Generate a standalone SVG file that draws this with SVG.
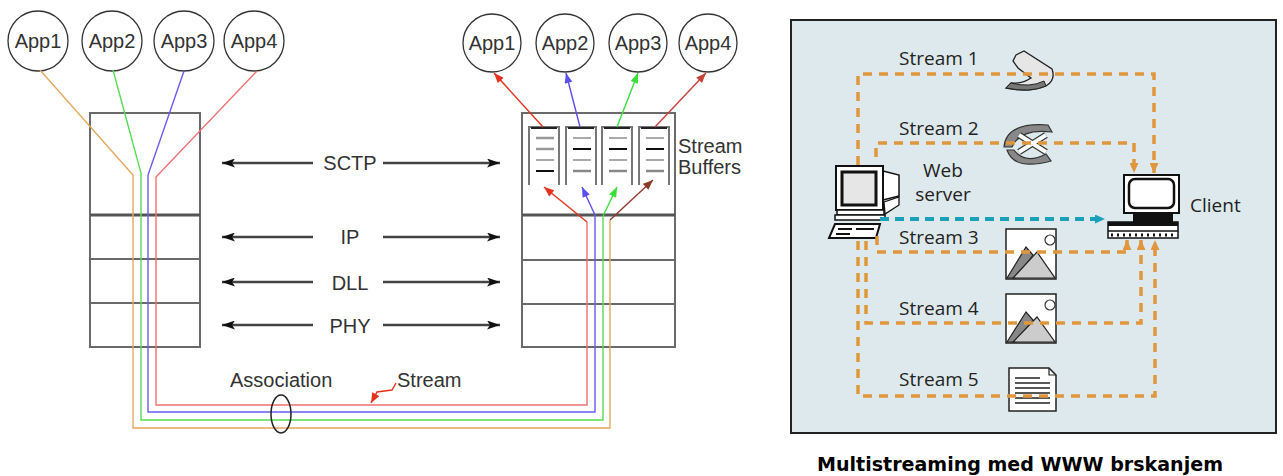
<svg xmlns="http://www.w3.org/2000/svg" width="1283" height="476" viewBox="0 0 1283 476">
<defs>
<style>
.lbl{font-family:"Liberation Sans",Arial,sans-serif;font-size:20px;fill:#333}
.app circle{fill:#fff;stroke:#333;stroke-width:1.3}
.frame{fill:none;stroke:#6a6a6a;stroke-width:2}
.layer{stroke:#6a6a6a;stroke-width:1.8}
.div{stroke:#555;stroke-width:3}
.peer{stroke:#444;stroke-width:2.6;fill:none;marker-end:url(#ah)}
.str{fill:none;stroke-width:1.4}
.buf{fill:none;stroke:#777;stroke-width:2}
.ws{font-family:"Open Sans","Noto Sans",sans-serif;font-size:19px;fill:#222}
.dash{fill:none;stroke:#e0963c;stroke-width:3.5;stroke-dasharray:9 7;marker-end:url(#a-or)}
.ink{stroke:#111;fill:#fff}
</style>
<marker id="ah" viewBox="0 0 13 9" refX="13" refY="4.5" markerWidth="13" markerHeight="9" markerUnits="userSpaceOnUse" orient="auto"><path d="M0,0 L13,4.5 L0,9 L3,4.5 Z" fill="#111"/></marker>
<marker id="a-red" viewBox="0 0 10 8" refX="10" refY="4" markerWidth="11" markerHeight="8" markerUnits="userSpaceOnUse" orient="auto"><path d="M0,0 L10,4 L0,8 Z" fill="#e4321e"/></marker>
<marker id="a-blu" viewBox="0 0 10 8" refX="10" refY="4" markerWidth="11" markerHeight="8" markerUnits="userSpaceOnUse" orient="auto"><path d="M0,0 L10,4 L0,8 Z" fill="#5a4ef0"/></marker>
<marker id="a-grn" viewBox="0 0 10 8" refX="10" refY="4" markerWidth="11" markerHeight="8" markerUnits="userSpaceOnUse" orient="auto"><path d="M0,0 L10,4 L0,8 Z" fill="#3ddc3d"/></marker>
<marker id="a-brn" viewBox="0 0 10 8" refX="10" refY="4" markerWidth="11" markerHeight="8" markerUnits="userSpaceOnUse" orient="auto"><path d="M0,0 L10,4 L0,8 Z" fill="#8e3a2a"/></marker>
<marker id="a-dred" viewBox="0 0 10 8" refX="10" refY="4" markerWidth="11" markerHeight="8" markerUnits="userSpaceOnUse" orient="auto"><path d="M0,0 L10,4 L0,8 Z" fill="#c8403a"/></marker>
<marker id="a-or" viewBox="0 0 10 9" refX="10" refY="4.5" markerWidth="10" markerHeight="9" markerUnits="userSpaceOnUse" orient="auto"><path d="M0,0 L10,4.5 L0,9 Z" fill="#e0963c"/></marker>
<marker id="a-tl" viewBox="0 0 10 9" refX="10" refY="4.5" markerWidth="10" markerHeight="9" markerUnits="userSpaceOnUse" orient="auto"><path d="M0,0 L10,4.5 L0,9 Z" fill="#1aa0b8"/></marker>
</defs>

<rect width="1283" height="476" fill="#fff"/>

<!-- sending host: applications -->
<g id="src-app1" class="app"><circle cx="38" cy="41" r="30"/><text class="lbl" x="38" y="48" text-anchor="middle">App1</text></g>
<g id="src-app2" class="app"><circle cx="112" cy="41" r="30"/><text class="lbl" x="112" y="48" text-anchor="middle">App2</text></g>
<g id="src-app3" class="app"><circle cx="184" cy="41" r="30"/><text class="lbl" x="184" y="48" text-anchor="middle">App3</text></g>
<g id="src-app4" class="app"><circle cx="254" cy="41" r="30"/><text class="lbl" x="254" y="48" text-anchor="middle">App4</text></g>

<!-- sending host: protocol stack -->
<g id="src-stack">
<rect class="frame" x="90" y="113" width="110" height="234"/>
<line class="div" x1="90" y1="215" x2="200" y2="215"/>
<line class="layer" x1="90" y1="259" x2="200" y2="259"/>
<line class="layer" x1="90" y1="303" x2="200" y2="303"/>
</g>

<!-- receiving host: applications -->
<g id="dst-app1" class="app"><circle cx="492" cy="43" r="29"/><text class="lbl" x="492" y="50" text-anchor="middle">App1</text></g>
<g id="dst-app2" class="app"><circle cx="565" cy="43" r="29"/><text class="lbl" x="565" y="50" text-anchor="middle">App2</text></g>
<g id="dst-app3" class="app"><circle cx="638" cy="43" r="29"/><text class="lbl" x="638" y="50" text-anchor="middle">App3</text></g>
<g id="dst-app4" class="app"><circle cx="708" cy="43" r="29"/><text class="lbl" x="708" y="50" text-anchor="middle">App4</text></g>

<!-- receiving host: protocol stack with stream buffers -->
<g id="dst-stack">
<rect class="frame" x="522" y="113" width="153" height="234"/>
<line class="div" x1="522" y1="215" x2="675" y2="215"/>
<line class="layer" x1="522" y1="260" x2="675" y2="260"/>
<line class="layer" x1="522" y1="304" x2="675" y2="304"/>
<g id="buffers" stroke-width="2">
<path class="buf" d="M529,185 V127 H559 V185"/><line x1="531" y1="128" x2="557" y2="128" stroke="#222"/>
<line x1="536" y1="138" x2="554" y2="138" stroke="#999" stroke-width="2.5"/><line x1="536" y1="149" x2="554" y2="149" stroke="#999" stroke-width="2.5"/><line x1="536" y1="160" x2="554" y2="160" stroke="#aaa"/><line x1="536" y1="171" x2="554" y2="171" stroke="#111"/>
<path class="buf" d="M566,185 V127 H596 V185"/><line x1="568" y1="128" x2="594" y2="128" stroke="#222"/>
<line x1="573" y1="138" x2="591" y2="138" stroke="#aaa"/><line x1="573" y1="149" x2="591" y2="149" stroke="#111"/><line x1="573" y1="160" x2="591" y2="160" stroke="#aaa"/><line x1="573" y1="171" x2="591" y2="171" stroke="#888" stroke-width="2.5"/>
<path class="buf" d="M602,185 V127 H632 V185"/><line x1="604" y1="128" x2="630" y2="128" stroke="#222"/>
<line x1="609" y1="138" x2="627" y2="138" stroke="#aaa"/><line x1="609" y1="149" x2="627" y2="149" stroke="#111"/><line x1="609" y1="160" x2="627" y2="160" stroke="#aaa"/><line x1="609" y1="171" x2="627" y2="171" stroke="#888" stroke-width="2.5"/>
<path class="buf" d="M639,185 V127 H669 V185"/><line x1="641" y1="128" x2="667" y2="128" stroke="#222"/>
<line x1="646" y1="138" x2="664" y2="138" stroke="#aaa"/><line x1="646" y1="149" x2="664" y2="149" stroke="#111"/><line x1="646" y1="160" x2="664" y2="160" stroke="#aaa"/><line x1="646" y1="171" x2="664" y2="171" stroke="#888" stroke-width="2.5"/>
</g>
<text class="lbl" x="678" y="153">Stream</text>
<text class="lbl" x="678" y="174">Buffers</text>
</g>

<!-- peer layer labels -->
<g id="peer-labels">
<text class="lbl" x="350" y="170" text-anchor="middle">SCTP</text>
<text class="lbl" x="350" y="244" text-anchor="middle">IP</text>
<text class="lbl" x="350" y="290" text-anchor="middle">DLL</text>
<text class="lbl" x="350" y="333" text-anchor="middle">PHY</text>
<text class="lbl" x="230" y="387">Association</text>
<text class="lbl" x="397" y="387">Stream</text>
</g>

<!-- connectors -->
<g id="connectors">
<path class="peer" d="M313,163 H222"/><path class="peer" d="M383,163 H500"/>
<path class="peer" d="M313,237 H222"/><path class="peer" d="M383,237 H500"/>
<path class="peer" d="M313,282 H222"/><path class="peer" d="M383,282 H500"/>
<path class="peer" d="M313,325 H222"/><path class="peer" d="M383,325 H500"/>

<path class="str" stroke="#e4a860" d="M40,70 L133,175 V428 H610 V220"/>
<path class="str" stroke="#55dd55" d="M113,70 L141,173 V420 H603 V216"/>
<path class="str" stroke="#6a5cf0" d="M184,71 L148,175 V412 H595 V215"/>
<path class="str" stroke="#f07070" d="M257,71 L156,177 V405 H587 V222"/>

<path class="str" stroke="#e4321e" stroke-width="1.6" marker-end="url(#a-red)" d="M587,222 L544,187"/>
<path class="str" stroke="#5a4ef0" stroke-width="1.6" marker-end="url(#a-blu)" d="M595,215 L582,187"/>
<path class="str" stroke="#3ddc3d" stroke-width="1.6" marker-end="url(#a-grn)" d="M603,216 L617,187"/>
<path class="str" stroke="#8e3a2a" stroke-width="1.6" marker-end="url(#a-brn)" d="M610,220 L653,180"/>

<path class="str" stroke="#e4321e" stroke-width="1.6" marker-end="url(#a-red)" d="M543,127 L494,73"/>
<path class="str" stroke="#5a4ef0" stroke-width="1.6" marker-end="url(#a-blu)" d="M580,127 L566,73"/>
<path class="str" stroke="#3ddc3d" stroke-width="1.6" marker-end="url(#a-grn)" d="M617,127 L638,73"/>
<path class="str" stroke="#c8403a" stroke-width="1.6" marker-end="url(#a-dred)" d="M655,127 L706,73"/>

<path class="str" stroke="#e4321e" stroke-width="1.5" marker-end="url(#a-red)" d="M396,383 L392,390 L377,392 L371,403"/>
<ellipse cx="281" cy="414" rx="10" ry="19" fill="none" stroke="#222" stroke-width="1.5"/>
</g>

<!-- WWW multistreaming panel -->
<rect id="panel" x="791" y="20" width="485" height="413" fill="#dde9ec" stroke="#222" stroke-width="2"/>

<g id="icon-stream1">
<path d="M1016,55 L1024,51 L1052,69 Q1056,80 1046,86 Q1030,93 1006,88 L1011,83 Q1022,84 1031,78 L1018,68 L1013,61 Z" fill="#e6e6e6" stroke="#222" stroke-width="1.3"/>
<path d="M1006,88 Q1030,93 1046,86 L1044,81 Q1030,88 1011,83 Z" fill="#777" stroke="#222" stroke-width="1"/>
</g>
<g id="icon-stream2">
<path d="M1004,147 Q1006,122 1048,125 L1052,132 Q1020,128 1012,147 Z" fill="#888" stroke="#333" stroke-width="1.2"/>
<path d="M1007,150 Q1014,171 1051,161 L1046,154 Q1025,165 1014,150 Z" fill="#888" stroke="#333" stroke-width="1.2"/>
<path d="M1019,135 L1046,152 M1019,152 L1046,135" stroke="#333" stroke-width="6.5"/>
<path d="M1019,135 L1046,152 M1019,152 L1046,135" stroke="#fff" stroke-width="4"/>
</g>
<g id="icon-stream3">
<rect x="1006" y="229" width="50" height="50" fill="#fff" stroke="#222" stroke-width="1.5"/>
<path d="M1007,278 L1026,247 L1033,255 L1016,278 Z" fill="#888" stroke="#222" stroke-width="1.2"/>
<path d="M1013,278 L1037,252 L1055,278 Z" fill="#ccc" stroke="#222" stroke-width="1.2"/>
<circle cx="1050" cy="240" r="5" fill="#fff" stroke="#333" stroke-width="1.2"/>
</g>
<g id="icon-stream4">
<rect x="1006" y="294" width="50" height="49" fill="#fff" stroke="#222" stroke-width="1.5"/>
<path d="M1007,342 L1026,312 L1033,320 L1016,342 Z" fill="#888" stroke="#222" stroke-width="1.2"/>
<path d="M1013,342 L1037,317 L1055,342 Z" fill="#ccc" stroke="#222" stroke-width="1.2"/>
<circle cx="1050" cy="305" r="5" fill="#fff" stroke="#333" stroke-width="1.2"/>
</g>
<g id="icon-stream5">
<path d="M1009,368 H1049 L1056,375 V411 H1009 Z" fill="#fff" stroke="#222" stroke-width="1.5"/>
<path d="M1049,368 V375 H1056" fill="none" stroke="#222" stroke-width="1.2"/>
<path d="M1015,378 H1040 M1015,383 H1050 M1015,388 H1050 M1015,393 H1050 M1015,398 H1050 M1015,403 H1050" stroke="#222" stroke-width="1.6"/>
</g>

<g id="web-server">
<path d="M883,171 L899,175 L899,196 L883,200 Z" class="ink" stroke-width="1.5"/>
<rect x="836" y="166" width="47" height="44" class="ink" stroke-width="2"/>
<rect x="842" y="172" width="34" height="33" fill="#e6e6e6" stroke="#111" stroke-width="3"/>
<path d="M884,202 L899,197 L899,205 L885,214 Z" class="ink" stroke-width="1.3"/>
<rect x="837" y="210" width="47" height="5" class="ink" stroke-width="1.5"/>
<rect x="835" y="215" width="50" height="5" class="ink" stroke-width="1.5"/>
<path d="M835,224 L880,224 L876,238 L829,238 Z" class="ink" stroke-width="2"/>
<path d="M838,229 H852 M856,229 H874 M836,234 H850" stroke="#111" stroke-width="2"/>
<text class="ws" x="943" y="177" text-anchor="middle" font-size="17">Web</text>
<text class="ws" x="943" y="201" text-anchor="middle" font-size="17">server</text>
</g>

<g id="client">
<rect x="1124" y="175" width="55" height="38" class="ink" stroke-width="2"/>
<rect x="1129" y="179" width="45" height="29" rx="6" class="ink" stroke-width="2.5"/>
<rect x="1133" y="213" width="40" height="9" fill="#111"/>
<rect x="1108" y="222" width="70" height="16" class="ink" stroke-width="1.5"/>
<rect x="1108" y="222" width="70" height="4" fill="#111"/>
<line x1="1108" y1="231" x2="1178" y2="231" stroke="#111" stroke-width="1.5"/>
<line x1="1111" y1="235" x2="1176" y2="235" stroke="#111" stroke-width="3" stroke-dasharray="2 4"/>
<text class="ws" x="1190" y="212">Client</text>
</g>

<g id="panel-connectors">
<path class="dash" d="M858,165 V74 H1154 V173"/>
<path class="dash" d="M876,157 V143 H1134 V173"/>
<path class="dash" d="M877,236 V252 H1127 V240"/>
<path class="dash" d="M866,241 V323 H1141 V240"/>
<path class="dash" d="M858,241 V396 H1155 V240"/>
<path d="M880,219 H1105" fill="none" stroke="#1aa0b8" stroke-width="4" stroke-dasharray="9 6" marker-end="url(#a-tl)"/>
</g>

<g id="panel-labels">
<text class="ws" x="899" y="65">Stream 1</text>
<text class="ws" x="899" y="135">Stream 2</text>
<text class="ws" x="899" y="244">Stream 3</text>
<text class="ws" x="899" y="315">Stream 4</text>
<text class="ws" x="899" y="386">Stream 5</text>
</g>

<text x="1020" y="471" text-anchor="middle" font-family="'DejaVu Sans',sans-serif" font-weight="bold" font-size="20" fill="#000" textLength="406" lengthAdjust="spacingAndGlyphs">Multistreaming med WWW brskanjem</text>
</svg>
